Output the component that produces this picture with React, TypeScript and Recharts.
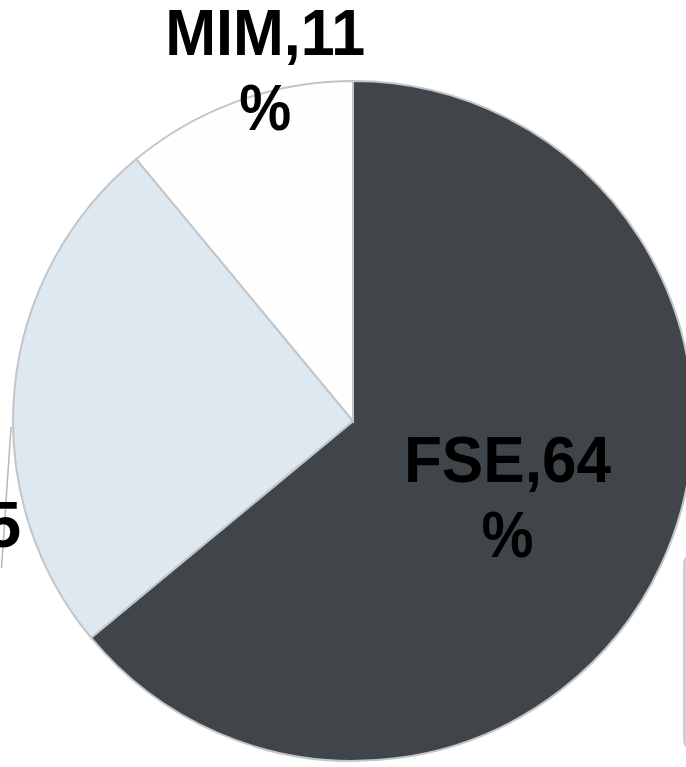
import { PieChart, Pie, Cell } from "recharts";

const names = ["FSE", "FEDER", "MIM"];
const shares = [64, 25, 11];
const colors = ["#3f4549", "#dde8f0", "#fefefe"];

const data = names.map((name, i) => ({ name, value: shares[i] }));

const RAD = Math.PI / 180;
const polar = (cx: number, cy: number, r: number, deg: number) => ({
  x: cx + r * Math.cos(-deg * RAD),
  y: cy + r * Math.sin(-deg * RAD),
});

// per-slice label placement: radius offset, angle offset, anchor, text width
const labelLayout = [
  { dr: -174, da: 3.7, anchor: "middle", len: 207 },
  { dr: 15, da: 26.2, anchor: "end", len: 0 },
  { dr: 36, da: -6.3, anchor: "middle", len: 200 },
];

const renderLabel = (props: any) => {
  const { cx, cy, midAngle, outerRadius, index, name, value } = props;
  const l = labelLayout[index];
  const p = polar(cx, cy, outerRadius + l.dr, midAngle + l.da);
  const txt = { fontFamily: "'Liberation Sans', Arial, sans-serif", fontWeight: 700, fontSize: 65, fill: "#000" };
  let leader = null;
  if (index === 1) {
    const a = polar(cx, cy, outerRadius + 2, 181);
    const b = polar(cx, cy, outerRadius + 41, 202.7);
    leader = <line x1={a.x} y1={a.y} x2={b.x} y2={b.y} stroke="#b8b8b8" strokeWidth={1.5} />;
  }
  const fit = l.len ? { textLength: l.len, lengthAdjust: "spacingAndGlyphs" } : {};
  return (
    <g>
      {leader}
      <text x={p.x} y={p.y} textAnchor={l.anchor} style={txt} {...fit}>{`${name},${value}`}</text>
      <text x={index === 1 ? p.x - 100 : p.x} y={p.y + 75} textAnchor="middle" style={txt} textLength={52} lengthAdjust="spacingAndGlyphs">%</text>
    </g>
  );
};

export default function App() {
  return (
    <div style={{ position: "absolute", left: 0, top: 0, width: 686, height: 767, overflow: "hidden", background: "#fff" }}>
      <PieChart width={686} height={767} margin={{ top: 0, right: 0, bottom: 0, left: 0 }}>
        <Pie
          data={data}
          dataKey="value"
          nameKey="name"
          cx={353}
          cy={421}
          outerRadius={340}
          startAngle={90}
          endAngle={-270}
          label={renderLabel}
          labelLine={false}
          isAnimationActive={false}
        >
          {data.map((d, i) => (
            <Cell key={d.name} fill={colors[i]} stroke="#c2c6ca" strokeWidth={2} />
          ))}
        </Pie>
      </PieChart>
      <div style={{ position: "absolute", left: 683, top: 555, width: 40, height: 188, border: "3px solid #cfcfcf", borderRadius: 8 }} />
    </div>
  );
}
